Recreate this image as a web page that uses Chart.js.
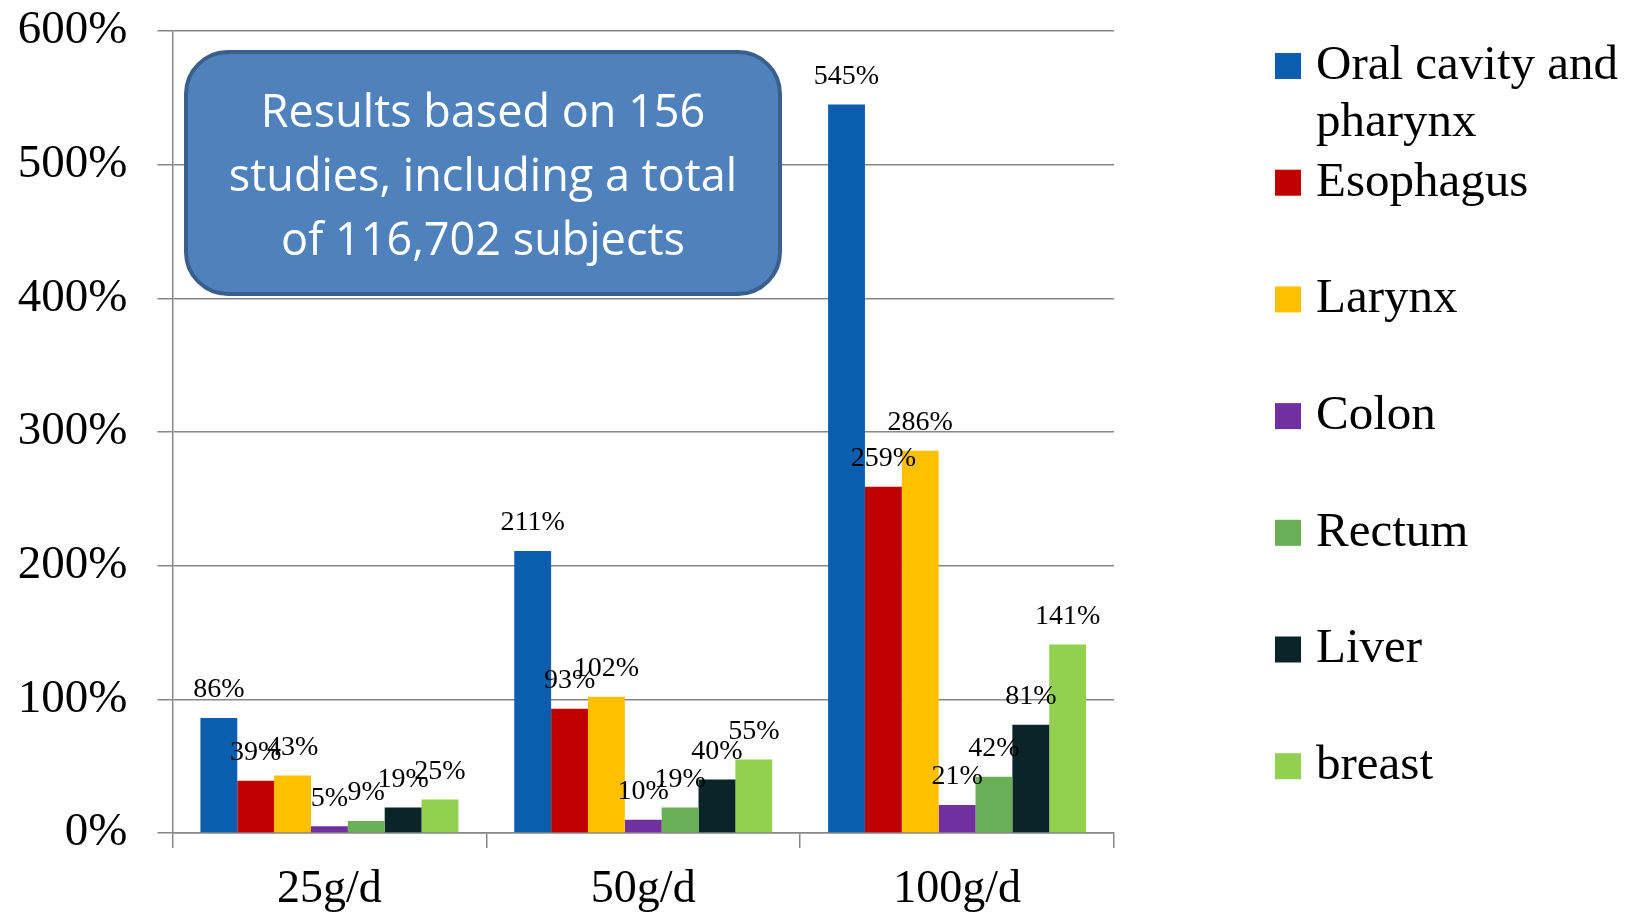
<!DOCTYPE html>
<html>
<head>
<meta charset="utf-8">
<script src="https://cdn.jsdelivr.net/npm/chart.js@4/dist/chart.umd.min.js"></script>
<style>
  html, body { margin: 0; padding: 0; background: #fff; }
  #wrap { width: 1639px; height: 922px; position: relative; }
</style>
</head>
<body>
<div id="wrap"><canvas id="chart" width="1639" height="922"></canvas></div>
<script>
// alcohol dose categories and relative risk increase per cancer site (%)
const doses = ['25g/d', '50g/d', '100g/d'];
const sites = ['Oral cavity and pharynx', 'Esophagus', 'Larynx', 'Colon', 'Rectum', 'Liver', 'breast'];
const oralPharynx = [86, 211, 545];
const esophagus = [39, 93, 259];
const larynx = [43, 102, 286];
const colon = [5, 10, 21];
const rectum = [9, 19, 42];
const liver = [19, 40, 81];
const breast = [25, 55, 141];
const yTicks = [0, 100, 200, 300, 400, 500, 600];

const siteColors = ['#0B5EAD', '#C00000', '#FFC000', '#7030A0', '#6AAF55', '#0A2428', '#92D050'];
const seriesValues = [oralPharynx, esophagus, larynx, colon, rectum, liver, breast];

const serif = '"Liberation Serif", "DejaVu Serif", serif';
const gridGray = '#878787';

// value labels above each bar
const valueLabels = {
  id: 'valueLabels',
  afterDatasetsDraw(chart) {
    const ctx = chart.ctx;
    ctx.save();
    ctx.font = '28px ' + serif;
    ctx.fillStyle = '#000';
    ctx.textAlign = 'center';
    ctx.textBaseline = 'middle';
    chart.data.datasets.forEach((ds, i) => {
      chart.getDatasetMeta(i).data.forEach((bar, j) => {
        ctx.fillText(ds.data[j] + '%', bar.x, bar.y - 28);
      });
    });
    ctx.restore();
  }
};

// legend on the right, one entry per site, long names wrapped
const sideLegend = {
  id: 'sideLegend',
  afterDraw(chart) {
    const ctx = chart.ctx;
    const x0 = 1275, textX = 1316, top = 66, step = 116.7, lineH = 57, maxW = 320;
    ctx.save();
    ctx.font = '49px ' + serif;
    ctx.textBaseline = 'middle';
    chart.data.datasets.forEach((ds, i) => {
      const cy = top + i * step;
      ctx.fillStyle = ds.backgroundColor;
      ctx.fillRect(x0, cy - 13, 26, 26);
      const lines = [];
      let cur = '';
      ds.label.split(' ').forEach(w => {
        const t = cur ? cur + ' ' + w : w;
        if (cur && ctx.measureText(t).width > maxW) { lines.push(cur); cur = w; }
        else cur = t;
      });
      lines.push(cur);
      ctx.fillStyle = '#000';
      lines.forEach((ln, k) => ctx.fillText(ln, textX, cy + k * lineH));
    });
    ctx.restore();
  }
};

// rounded note box over the plot
const noteBox = {
  id: 'noteBox',
  afterDraw(chart) {
    const ctx = chart.ctx;
    const x = 186, y = 52, w = 594, h = 242, r = 42;
    ctx.save();
    ctx.beginPath();
    ctx.roundRect(x, y, w, h, r);
    ctx.fillStyle = '#4F81BD';
    ctx.fill();
    ctx.lineWidth = 4;
    ctx.strokeStyle = '#3A5F8B';
    ctx.stroke();
    ctx.fillStyle = '#fff';
    ctx.font = '45px "Open Sans", Lato, sans-serif';
    ctx.textAlign = 'center';
    ctx.textBaseline = 'middle';
    ['Results based on 156', 'studies, including a total', 'of 116,702 subjects']
      .forEach((t, k) => ctx.fillText(t, x + w / 2, 114 + k * 64));
    ctx.restore();
  }
};

new Chart(document.getElementById('chart'), {
  type: 'bar',
  data: {
    labels: doses,
    datasets: sites.map((name, i) => ({
      label: name,
      data: seriesValues[i],
      backgroundColor: siteColors[i],
      borderWidth: 0,
      categoryPercentage: 0.822,
      barPercentage: 1.0
    }))
  },
  options: {
    responsive: false,
    animation: false,
    devicePixelRatio: 1,
    layout: { padding: { top: 31, right: 525, left: 0, bottom: 0 } },
    plugins: {
      legend: { display: false },
      tooltip: { enabled: false }
    },
    scales: {
      x: {
        grid: { drawOnChartArea: false, drawTicks: true, tickLength: 15, color: gridGray, lineWidth: 1.5, offset: true },
        border: { color: gridGray, width: 1.5 },
        ticks: { font: { family: serif, size: 46 }, color: '#000', padding: 14 },
        afterFit(scale) { scale.height = 89; }
      },
      y: {
        min: 0,
        max: 600,
        afterBuildTicks(scale) { scale.ticks = yTicks.map(v => ({ value: v })); },
        grid: { color: gridGray, lineWidth: 1.5, tickLength: 15 },
        border: { color: gridGray, width: 1.5 },
        ticks: {
          font: { family: serif, size: 47 },
          color: '#000',
          padding: 30,
          callback: v => v + '%'
        },
        afterFit(scale) {
          scale.width = 172.5;
          scale.paddingTop = 0;
          scale.paddingBottom = 0;
        }
      }
    }
  },
  plugins: [valueLabels, noteBox, sideLegend]
});
</script>
</body>
</html>
